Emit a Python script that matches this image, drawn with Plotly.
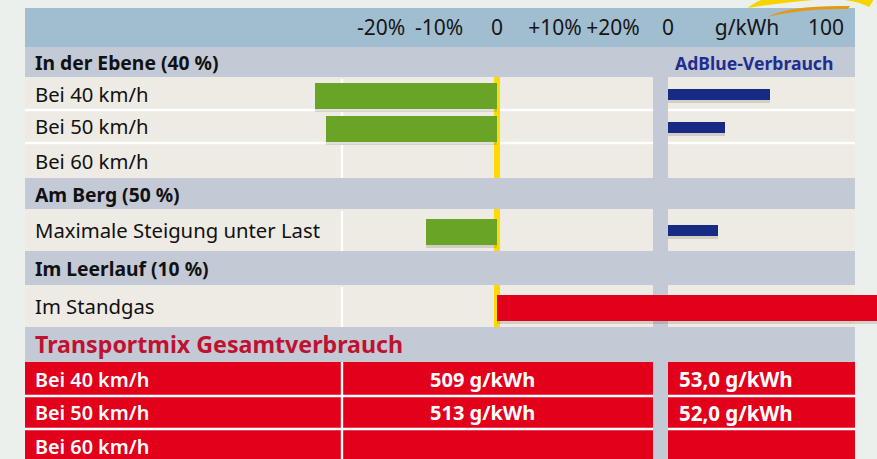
import plotly.graph_objects as go

# ---------------- data ----------------
SECTION_LABELS = ["In der Ebene (40 %)", "Am Berg (50 %)", "Im Leerlauf (10 %)"]
ROW_LABELS = ["Bei 40 km/h", "Bei 50 km/h", "Bei 60 km/h",
              "Maximale Steigung unter Last", "Im Standgas"]
FUEL_CHANGE_PCT = [-31.4, -29.5, None, -12.2, 70.0]
ADBLUE_G_KWH = [64.5, 36.0, None, 31.5, None]

TOTAL_TITLE = "Transportmix Gesamtverbrauch"
TOTAL_LABELS = ["Bei 40 km/h", "Bei 50 km/h", "Bei 60 km/h"]
TOTAL_FUEL_G_KWH = [509, 513, None]
TOTAL_ADBLUE_G_KWH = [53.0, 52.0, None]

ADBLUE_TITLE = "AdBlue-Verbrauch"
PCT_TICKS = [-20, -10, 0, 10, 20]
PCT_TICK_LABELS = ["-20%", "-10%", "0", "+10%", "+20%"]
ADBLUE_TICKS = [0, 50, 100]
ADBLUE_TICK_LABELS = ["0", "g/kWh", "100"]

# ---------------- layout constants ----------------
W, H = 877, 459
FONT = "Noto Sans"
OUTER_BG = "#EBF0EC"
TOP_HDR = "#A1BDD0"
SEC_BG = "#C3C9D5"
CELL_BG = "#EEEAE4"
GREEN = "#6AA427"
BLUE = "#172A84"
RED = "#E2001A"
YELLOW = "#FFDA00"
TITLE_RED = "#BE1230"
ADBLUE_TXT = "#1F2E8E"

PANEL_L, PANEL_R = 25, 855
GAP_L, GAP_R = 653, 668
LABEL_SEP = 342
TEXT_X = 33
ZERO_PX, PX_PER_PCT = 497, 5.8
AD_ZERO_PX, PX_PER_G = 668, 1.58

BLOCKS = [("axis", 39), ("sec", 30), ("row", 33), ("row", 33), ("row", 35),
          ("sec", 31), ("row", 42), ("sec", 34), ("row", 42),
          ("title", 35), ("total", 34), ("total", 33), ("total", 34)]
TOP0 = 8

spans = {"axis": [], "sec": [], "row": [], "title": [], "total": []}
y = TOP0
for kind, h in BLOCKS:
    spans[kind].append((y, y + h))
    y += h


def fx(px):
    return px / W


def fy(py):
    return 1 - py / H


shapes = []


def rect(x0, x1, y0, y1, color):
    shapes.append(dict(type="rect", xref="paper", yref="paper",
                       x0=fx(x0), x1=fx(x1), y0=fy(y1), y1=fy(y0),
                       fillcolor=color, line=dict(width=0), layer="below"))


# panel backgrounds
ax_top, ax_bot = spans["axis"][0]
rect(PANEL_L, PANEL_R, ax_top, ax_bot, TOP_HDR)
rect(PANEL_L, PANEL_R, ax_bot, H, SEC_BG)

# data cells
for (t, b) in spans["row"]:
    rect(PANEL_L, GAP_L, t, b, CELL_BG)
    rect(GAP_R, PANEL_R, t, b, CELL_BG)
    rect(LABEL_SEP - 1.2, LABEL_SEP + 1.2, t + 2, b, "#FFFFFF")
for (t, b) in spans["total"]:
    rect(PANEL_L, GAP_L, t, b, RED)
    rect(GAP_R, PANEL_R, t, b, RED)
    rect(LABEL_SEP - 1.2, LABEL_SEP + 1.2, t, b, "#FFFFFF")

# white separators between consecutive rows
for group in (spans["row"], spans["total"]):
    for (t1, b1), (t2, b2) in zip(group[:-1], group[1:]):
        if b1 == t2:
            rect(PANEL_L, GAP_L, b1 - 1.2, b1 + 1.2, "#FFFFFF")
            rect(GAP_R, PANEL_R, b1 - 1.2, b1 + 1.2, "#FFFFFF")

# yellow zero line in data rows
for (t, b) in spans["row"]:
    shapes.append(dict(type="line", xref="x", yref="y", x0=0, x1=0, y0=t, y1=b,
                       line=dict(color=YELLOW, width=6), layer="below"))


# logo swoosh (decoration)
def path(pts_str, color):
    shapes.append(dict(type="path", xref="paper", yref="paper", path=pts_str,
                       fillcolor=color, line=dict(width=0), layer="above"))


def P(x, yy):
    return f"{fx(x):.5f},{fy(yy):.5f}"


path(f"M {P(748,8)} Q {P(790,1)} {P(830,-1)} L {P(764,-1)} Q {P(753,3)} {P(748,8)} Z", "#F6D400")
path(f"M {P(836,-1)} Q {P(858,1)} {P(869,7)} Q {P(872,3)} {P(874,-1)} Z", "#F6D400")
path(f"M {P(767,17)} Q {P(790,5)} {P(850,6)} L {P(848,9)} Q {P(805,8)} {P(767,17)} Z", "#E39A12")

# ---------------- traces ----------------
row_centers = [(t + b) / 2 for (t, b) in spans["row"]]

fx_vals, fy_vals, fcols = [], [], []
for v, c in zip(FUEL_CHANGE_PCT, row_centers):
    if v is None:
        continue
    fx_vals.append(v)
    fy_vals.append(c + 2)
    fcols.append(GREEN if v < 0 else RED)

ax_vals, ay_vals = [], []
for v, c in zip(ADBLUE_G_KWH, row_centers):
    if v is None:
        continue
    ax_vals.append(v)
    ay_vals.append(c + 0.5)

fig = go.Figure()
# shadows
fig.add_trace(go.Bar(x=fx_vals, y=[v + 3 for v in fy_vals], base=0, orientation="h",
                     width=26, marker=dict(color="rgba(70,60,40,0.16)", line=dict(width=0)),
                     xaxis="x", yaxis="y", hoverinfo="skip"))
fig.add_trace(go.Bar(x=ax_vals, y=[v + 3 for v in ay_vals], base=0, orientation="h",
                     width=11, marker=dict(color="rgba(70,60,40,0.16)", line=dict(width=0)),
                     xaxis="x2", yaxis="y", hoverinfo="skip"))
# bars
fig.add_trace(go.Bar(x=fx_vals, y=fy_vals, base=0, orientation="h", width=26,
                     marker=dict(color=fcols, line=dict(width=0)), xaxis="x", yaxis="y"))
fig.add_trace(go.Bar(x=ax_vals, y=ay_vals, base=0, orientation="h", width=11,
                     marker=dict(color=BLUE, line=dict(width=0)), xaxis="x2", yaxis="y"))

# ---------------- annotations ----------------
ann = []


def text(x, yy, s, size, color="#111111", weight="normal", anchor="left"):
    ann.append(dict(xref="paper", yref="paper", x=fx(x), y=fy(yy), text=s,
                    showarrow=False, xanchor=anchor, yanchor="middle",
                    font=dict(family=FONT, size=size, color=color, weight=weight)))


for lab, (t, b) in zip(SECTION_LABELS, spans["sec"]):
    text(TEXT_X, (t + b) / 2 + 0.5, lab, 19.3, weight="bold")
s_t, s_b = spans["sec"][0]
text(835, (s_t + s_b) / 2 + 0.5, ADBLUE_TITLE, 17.6, color=ADBLUE_TXT, weight="bold", anchor="right")

for lab, (t, b) in zip(ROW_LABELS, spans["row"]):
    text(TEXT_X, (t + b) / 2, lab, 20.3)

tt, tb = spans["title"][0]
text(TEXT_X, (tt + tb) / 2 - 1, TOTAL_TITLE, 23.2, color=TITLE_RED, weight="bold")

for lab, fuel, ad, (t, b) in zip(TOTAL_LABELS, TOTAL_FUEL_G_KWH, TOTAL_ADBLUE_G_KWH, spans["total"]):
    cy = (t + b) / 2
    text(TEXT_X, cy, lab, 19.8, color="#FFFFFF", weight=600)
    if fuel is not None:
        text(482, cy, f"{fuel} g/kWh", 20, color="#FFFFFF", weight="bold", anchor="center")
    if ad is not None:
        text(677, cy, f"{ad:.1f}".replace(".", ",") + " g/kWh", 20.5, color="#FFFFFF", weight="bold")

# ---------------- axes ----------------
axis_pos = fy(ax_bot - 8)
tickfont = dict(family=FONT, size=21, color="#151515")
fig.update_layout(
    width=W, height=H, autosize=False,
    margin=dict(l=0, r=0, t=0, b=0, pad=0),
    paper_bgcolor=OUTER_BG, plot_bgcolor="rgba(0,0,0,0)",
    showlegend=False, barmode="overlay", bargap=0,
    shapes=shapes, annotations=ann,
    xaxis=dict(domain=[0, 1], range=[-ZERO_PX / PX_PER_PCT, (W - ZERO_PX) / PX_PER_PCT],
               anchor="free", position=axis_pos, side="top",
               tickmode="array", tickvals=PCT_TICKS, ticktext=PCT_TICK_LABELS,
               ticks="", showgrid=False, zeroline=False, showline=False,
               tickfont=tickfont, fixedrange=True),
    xaxis2=dict(domain=[0, 1], range=[-AD_ZERO_PX / PX_PER_G, (W - AD_ZERO_PX) / PX_PER_G],
                anchor="free", position=axis_pos, side="top", overlaying="x",
                tickmode="array", tickvals=ADBLUE_TICKS, ticktext=ADBLUE_TICK_LABELS,
                ticks="", showgrid=False, zeroline=False, showline=False,
                tickfont=tickfont, fixedrange=True),
    yaxis=dict(domain=[0, 1], range=[H, 0], visible=False, fixedrange=True),
)

fig.write_html("out.html", config={"displayModeBar": False},
               post_script="document.body.style.margin='0';document.body.style.overflow='hidden';")
